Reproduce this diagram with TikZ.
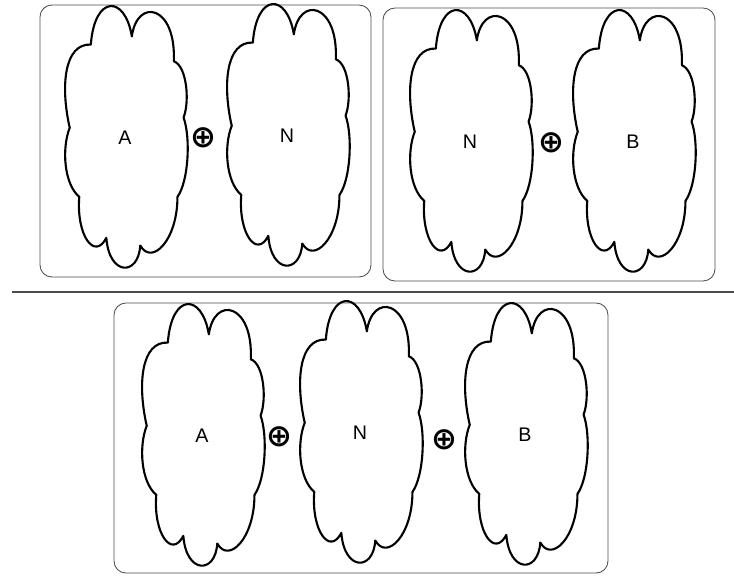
\documentclass[tikz,border=0pt]{standalone}
\usepackage{fontspec}
\setmainfont{Liberation Sans}
\newfontfamily\symfont{DejaVu Sans}
\begin{document}
\begin{tikzpicture}[x=0.025cm,y=-0.025cm,
  frame/.style={draw=black!70,line width=0.6pt,rounded corners=8.5pt},
  rule/.style={draw=black!70,line width=1.2pt},
  puff/.style={draw=black,line width=1.5pt,line join=round},
  lbl/.style={font=\fontsize{14}{16}\selectfont,inner sep=0pt},
  op/.style={font=\symfont\bfseries\fontsize{22}{24}\selectfont,inner sep=0pt},
  cloudpic/.pic={
    \draw[puff] (-0.28,0.365) .. controls (-0.25,0.56) and (0,0.56) .. (0.056,0.397)
      .. controls (0.10,0.55) and (0.42,0.52) .. (0.40,0.30)
      .. controls (0.51,0.28) and (0.53,0.14) .. (0.48,0.08)
      .. controls (0.54,0.0) and (0.52,-0.17) .. (0.43,-0.23)
      .. controls (0.43,-0.40) and (0.22,-0.50) .. (0.125,-0.42)
      .. controls (0.11,-0.54) and (-0.13,-0.54) .. (-0.153,-0.39)
      .. controls (-0.25,-0.48) and (-0.40,-0.38) .. (-0.375,-0.23)
      .. controls (-0.50,-0.18) and (-0.52,-0.04) .. (-0.453,0.04)
      .. controls (-0.53,0.20) and (-0.50,0.37) .. (-0.28,0.365) -- cycle;
  },
  cloudsize/.style={xscale=122,yscale=-256}]
\useasboundingbox (0,0) rectangle (734,575);

% frames and divider
\draw[frame] (40,5) rectangle (371,277);
\draw[frame] (383,8) rectangle (715,281);
\draw[rule] (12,292) -- (734,292);
\draw[frame] (114,303) rectangle (608,573);

% top left: A + N
\node[lbl] (a1) at (125,138) {A};
\node[lbl] (n1) at (287,136) {N};
\pic[cloudsize] at (a1) {cloudpic};
\pic[cloudsize] at (n1) {cloudpic};
\node[op] (p1) at (203,138) {⊕};

% top right: N + B
\node[lbl] (n2) at (470,142) {N};
\node[lbl] (b2) at (633,142) {B};
\pic[cloudsize] at (n2) {cloudpic};
\pic[cloudsize] at (b2) {cloudpic};
\node[op] (p2) at (551,143) {⊕};

% bottom: A + N + B
\node[lbl] (a3) at (202,436) {A};
\node[lbl] (n3) at (360,433) {N};
\node[lbl] (b3) at (525,435) {B};
\pic[cloudsize] at (a3) {cloudpic};
\pic[cloudsize] at (n3) {cloudpic};
\pic[cloudsize] at (b3) {cloudpic};
\node[op] (p3) at (279,437) {⊕};
\node[op] (p4) at (444,440) {⊕};
\end{tikzpicture}
\end{document}
